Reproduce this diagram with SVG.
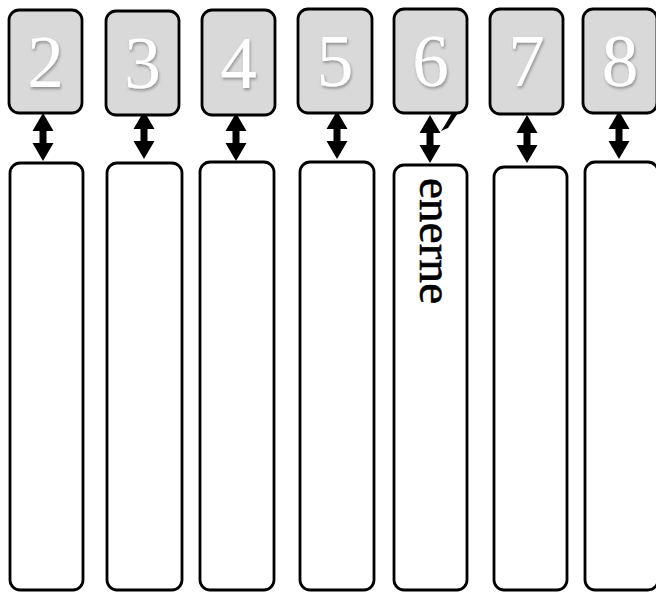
<svg xmlns="http://www.w3.org/2000/svg" width="656" height="592" viewBox="0 0 656 592">
<style>
.top{fill:#d9d9d9;stroke:#000;stroke-width:2.8}
.bot{fill:#fff;stroke:#000;stroke-width:2.8}
.num{font-family:"Liberation Serif",serif;font-size:73px;fill:#fff;text-anchor:middle}
.lbl{font-family:"Liberation Serif",serif;font-size:47px;fill:#000;stroke:#000;stroke-width:0.6}
.arr{fill:#000}
</style>
<defs>
<filter id="sh" x="-30%" y="-30%" width="160%" height="160%">
<feDropShadow dx="1" dy="2" stdDeviation="1.5" flood-color="#000" flood-opacity="0.35"/>
</filter>
<path id="da" d="M0,0 L10.5,18 L3.5,18 L3.5,30 L10.5,30 L0,48 L-10.5,30 L-3.5,30 L-3.5,18 L-10.5,18 Z"/>
</defs>
<rect width="656" height="592" fill="#fff"/>
<g id="connectors" class="arr">
<use href="#da" x="43" y="113"/>
<use href="#da" x="144" y="111"/>
<use href="#da" x="236" y="113"/>
<use href="#da" x="337" y="111"/>
<use href="#da" x="430" y="115"/>
<use href="#da" x="527" y="115"/>
<use href="#da" x="619" y="111"/>
<polygon points="441,131 448,128 458,113 452,113 445,125"/>
</g>
<g id="n2"><rect class="top" x="9" y="10" width="73" height="103" rx="10"/><text class="num" x="45.5" y="87" filter="url(#sh)">2</text></g>
<g id="n3"><rect class="top" x="106" y="11" width="73" height="104" rx="10"/><text class="num" x="142.5" y="88" filter="url(#sh)">3</text></g>
<g id="n4"><rect class="top" x="202" y="10" width="73" height="105" rx="10"/><text class="num" x="238.5" y="88" filter="url(#sh)">4</text></g>
<g id="n5"><rect class="top" x="298" y="9" width="74" height="104" rx="10"/><text class="num" x="335" y="86" filter="url(#sh)">5</text></g>
<g id="n6"><rect class="top" x="394" y="9" width="73" height="104" rx="10"/><text class="num" x="430.5" y="86" filter="url(#sh)">6</text></g>
<g id="n7"><rect class="top" x="490" y="9" width="73" height="105" rx="10"/><text class="num" x="526.5" y="86" filter="url(#sh)">7</text></g>
<g id="n8"><rect class="top" x="583" y="9" width="74" height="104" rx="10"/><text class="num" x="620" y="86" filter="url(#sh)">8</text></g>
<g id="b2"><rect class="bot" x="10" y="163" width="73" height="427" rx="10"/></g>
<g id="b3"><rect class="bot" x="107" y="163" width="75" height="427" rx="10"/></g>
<g id="b4"><rect class="bot" x="200" y="162" width="74" height="428" rx="10"/></g>
<g id="b5"><rect class="bot" x="300" y="162" width="74" height="428" rx="10"/></g>
<g id="b6"><rect class="bot" x="394" y="165" width="73" height="425" rx="10"/><text class="lbl" transform="translate(420,178) rotate(90)" textLength="126">enerne</text></g>
<g id="b7"><rect class="bot" x="494" y="167" width="73" height="423" rx="10"/></g>
<g id="b8"><rect class="bot" x="585" y="162" width="73" height="428" rx="10"/></g>
</svg>
